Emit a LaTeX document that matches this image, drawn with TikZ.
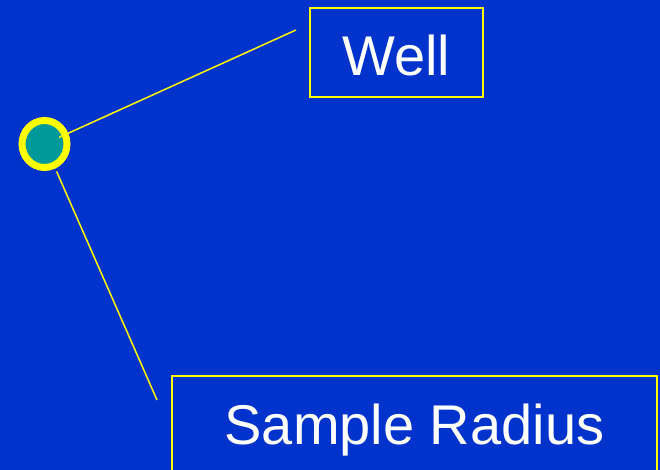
\documentclass[tikz,border=0pt]{standalone}
\usepackage{fontspec}
\setmainfont{Liberation Sans}
\usetikzlibrary{shapes.geometric}
\definecolor{bgblue}{HTML}{0033CC}
\definecolor{wellteal}{HTML}{009999}
\definecolor{ylw}{HTML}{FFFF00}
\begin{document}
\begin{tikzpicture}[x=1pt,y=1pt,
  labelbox/.style={draw=ylw,line width=1.6pt,inner sep=0pt,text=white,font=\fontsize{56}{60}\selectfont},
  leader/.style={draw=ylw,line width=1.5pt}]
\useasboundingbox (0,0) rectangle (660,470);
\fill[bgblue] (0,0) rectangle (660,470);
\begin{scope}
\clip (0,0) rectangle (660,470);
\node[labelbox,minimum width=173pt,minimum height=89pt,text height=47pt,text depth=0pt] (well) at (396.5,417.5) {Well};
\node[labelbox,minimum width=485pt,minimum height=97pt,text depth=0pt] (radius) at (414.5,45.5) {Sample Radius};
\end{scope}
\coordinate (e1) at (296,440);
\coordinate (e2) at (157,70);
\node[ellipse,draw=ylw,fill=wellteal,line width=7pt,minimum width=45pt,minimum height=47pt,inner sep=0pt] (c) at (44.5,326) {};
\draw[leader,shorten <=16pt] (c.center) -- (e1);
\draw[leader,shorten <=30pt] (c.center) -- (e2);
\end{tikzpicture}
\end{document}
